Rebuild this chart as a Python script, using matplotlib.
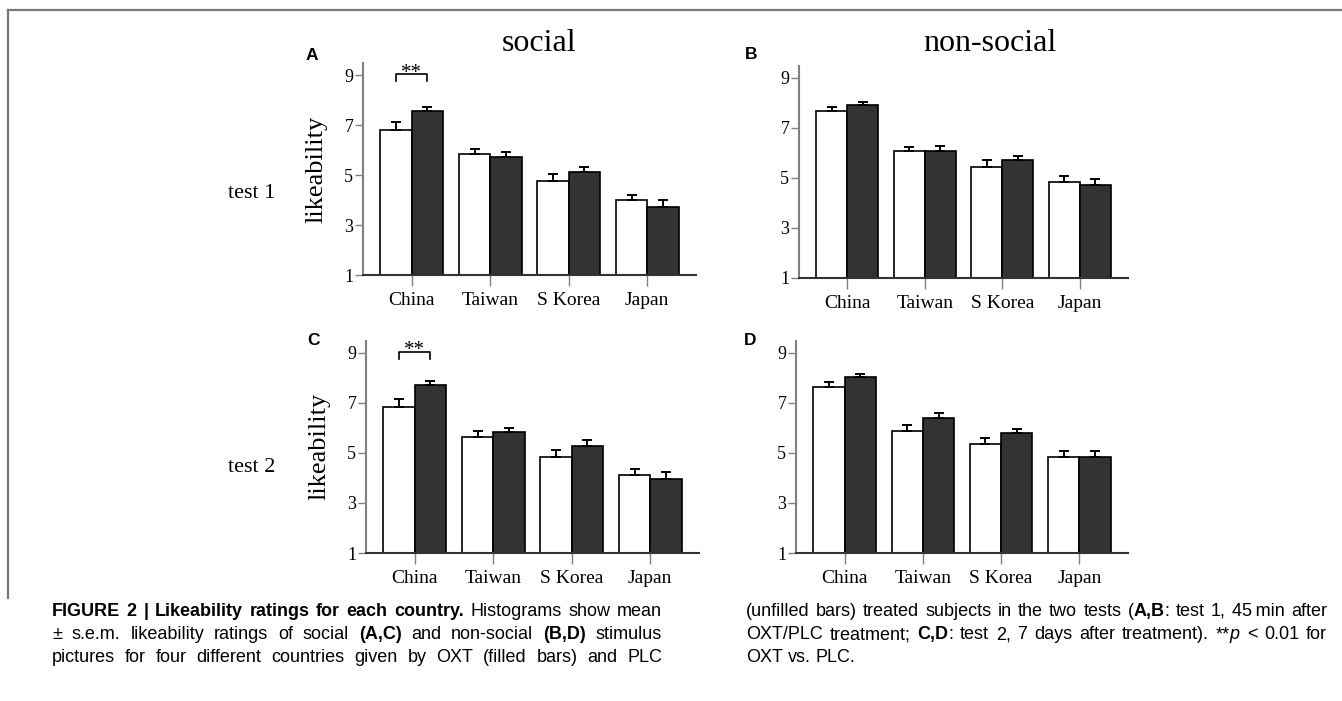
import matplotlib
matplotlib.use("Agg")
import matplotlib.pyplot as plt
from matplotlib.lines import Line2D
import numpy as np

W, H = 1342, 701

countries = ["China", "Taiwan", "S Korea", "Japan"]
yticks = [1, 3, 5, 7, 9]

# means and s.e.m.: PLC = unfilled, OXT = filled
plc_a = [6.83, 5.84, 4.77, 3.99]
plc_a_err = [0.30, 0.23, 0.27, 0.22]
oxt_a = [7.59, 5.75, 5.11, 3.73]
oxt_a_err = [0.13, 0.20, 0.22, 0.27]

plc_b = [7.69, 6.07, 5.45, 4.83]
plc_b_err = [0.15, 0.17, 0.28, 0.26]
oxt_b = [7.93, 6.09, 5.71, 4.71]
oxt_b_err = [0.11, 0.19, 0.18, 0.24]

plc_c = [6.86, 5.64, 4.86, 4.12]
plc_c_err = [0.30, 0.25, 0.26, 0.24]
oxt_c = [7.73, 5.84, 5.30, 3.98]
oxt_c_err = [0.17, 0.18, 0.22, 0.28]

plc_d = [7.65, 5.90, 5.36, 4.84]
plc_d_err = [0.21, 0.24, 0.26, 0.25]
oxt_d = [8.04, 6.40, 5.82, 4.85]
oxt_d_err = [0.12, 0.20, 0.16, 0.25]

serif = "Liberation Serif"
sans = "Liberation Sans"
cap_family = ["Liberation Sans", "DejaVu Sans"]

fig = plt.figure(figsize=(W / 100, H / 100), dpi=100)


def rect(left, right, bottom, top):
    return [left / W, 1 - bottom / H, (right - left) / W, (bottom - top) / H]


def panel(r, plc, plc_err, oxt, oxt_err, ylabel=None, sig=False):
    ax = fig.add_axes(r)
    x = np.arange(len(countries))
    w = 0.4
    ax.bar(x - w / 2, plc, w, color="white", edgecolor="black", linewidth=1.2, zorder=2)
    ax.bar(x + w / 2, oxt, w, color="#333333", edgecolor="black", linewidth=1.2, zorder=2)
    ax.errorbar(x - w / 2, plc, yerr=[np.zeros(4), plc_err], fmt="none", ecolor="black",
                elinewidth=1.4, capsize=3.5, capthick=1.4, zorder=3)
    ax.errorbar(x + w / 2, oxt, yerr=[np.zeros(4), oxt_err], fmt="none", ecolor="black",
                elinewidth=1.4, capsize=3.5, capthick=1.4, zorder=3)
    ax.set_xlim(-0.62, 3.62)
    ax.set_ylim(1, 9.5)
    ax.set_yticks(yticks)
    ax.set_yticklabels([str(t) for t in yticks], fontfamily=serif, fontsize=13)
    ax.set_xticks(x)
    ax.set_xticklabels(countries, fontfamily=serif, fontsize=14)
    ax.tick_params(axis="y", length=6, width=1, colors="#808080", labelcolor="black", pad=1)
    ax.tick_params(axis="x", length=8, width=1, colors="#808080", labelcolor="black", pad=4)
    for s in ["top", "right"]:
        ax.spines[s].set_visible(False)
    ax.spines["left"].set_color("#808080")
    ax.spines["left"].set_linewidth(1.5)
    ax.spines["bottom"].set_color("#333333")
    ax.spines["bottom"].set_linewidth(1.5)
    if ylabel:
        ax.set_ylabel(ylabel, fontfamily=serif, fontsize=19, labelpad=12)
    if sig:
        ax.plot([-w / 2, -w / 2, w / 2, w / 2], [8.77, 9.05, 9.05, 8.77], color="black",
                linewidth=1.2, clip_on=False)
        ax.text(0, 8.9, "**", ha="center", va="baseline", fontfamily=serif, fontsize=15,
                clip_on=False)
    return ax


panel(rect(363, 696, 275, 63), plc_a, plc_a_err, oxt_a, oxt_a_err, "likeability", sig=True)
panel(rect(799, 1128, 278, 65.5), plc_b, plc_b_err, oxt_b, oxt_b_err)
panel(rect(366, 699, 553, 340.5), plc_c, plc_c_err, oxt_c, oxt_c_err, "likeability", sig=True)
panel(rect(796, 1128, 553, 340.5), plc_d, plc_d_err, oxt_d, oxt_d_err)


def ftext(px, py, s, **kw):
    fig.text(px / W, 1 - py / H, s, **kw)


ftext(539, 51, "social", ha="center", va="baseline", fontfamily=serif, fontsize=23)
ftext(990, 51, "non-social", ha="center", va="baseline", fontfamily=serif, fontsize=23)
ftext(252, 193, "test 1", ha="center", va="center", fontfamily=serif, fontsize=16)
ftext(252, 467, "test 2", ha="center", va="center", fontfamily=serif, fontsize=16)
for lab, px, py in [("A", 306, 60), ("B", 745, 59), ("C", 307, 345), ("D", 744, 345)]:
    ftext(px, py, lab, ha="left", va="baseline", fontfamily=sans, fontweight="bold", fontsize=12.5)

# frame round the figure
fig.add_artist(Line2D([8 / W, 1], [1 - 10 / H, 1 - 10 / H], color="#777777", linewidth=1.6))
fig.add_artist(Line2D([8 / W, 8 / W], [1 - 10 / H, 1 - 598 / H], color="#777777", linewidth=1.6))

# caption, justified in two columns
N, B, I = "normal", "bold", "italic"
cap_lines = [
    (52, 662, 616, True, [("FIGURE 2 | Likeability ratings for each country.", B), (" Histograms show mean", N)]),
    (52, 662, 639, True, [("\u00b1 s.e.m. likeability ratings of social ", N), ("(A,C)", B),
                          (" and non-social ", N), ("(B,D)", B), (" stimulus", N)]),
    (52, 662, 662, True, [("pictures for four different countries given by OXT (filled bars) and PLC", N)]),
    (746, 1327, 616, True, [("(unfilled bars) treated subjects in the two tests (", N), ("A,B", B),
                            (": test 1, 45\u2009min after", N)]),
    (746, 1327, 639, True, [("OXT/PLC treatment; ", N), ("C,D", B),
                            (": test 2, 7 days after treatment). **", N), ("p", I), (" < 0.01 for", N)]),
    (746, 1327, 662, False, [("OXT vs. PLC.", N)]),
]
cap_size = 13
renderer = fig.canvas.get_renderer()


def text_width(s, style):
    t = fig.text(0, 0, s, fontfamily=cap_family, fontsize=cap_size,
                 fontweight="bold" if style == B else "normal",
                 fontstyle="italic" if style == I else "normal")
    wpx = t.get_window_extent(renderer).width
    t.remove()
    return wpx


for x0, x1, yb, justify, runs in cap_lines:
    # split runs into words, each word a list of (piece, style)
    words, cur = [], []
    for s, st in runs:
        parts = s.split(" ")
        for k, p in enumerate(parts):
            if k > 0:
                if cur:
                    words.append(cur)
                cur = []
            if p:
                cur.append((p, st))
    if cur:
        words.append(cur)
    widths = [sum(text_width(p, st) for p, st in wd) for wd in words]
    space = text_width("a a", N) - text_width("aa", N)
    if justify and len(words) > 1:
        space = max((x1 - x0 - sum(widths)) / (len(words) - 1), 2.5)
    xp = x0
    for wd, wpx in zip(words, widths):
        xx = xp
        for p, st in wd:
            ftext(xx, yb, p, ha="left", va="baseline", fontfamily=cap_family, fontsize=cap_size,
                  fontweight="bold" if st == B else "normal",
                  fontstyle="italic" if st == I else "normal")
            xx += text_width(p, st)
        xp += wpx + space

fig.savefig("out.png", dpi=100)
